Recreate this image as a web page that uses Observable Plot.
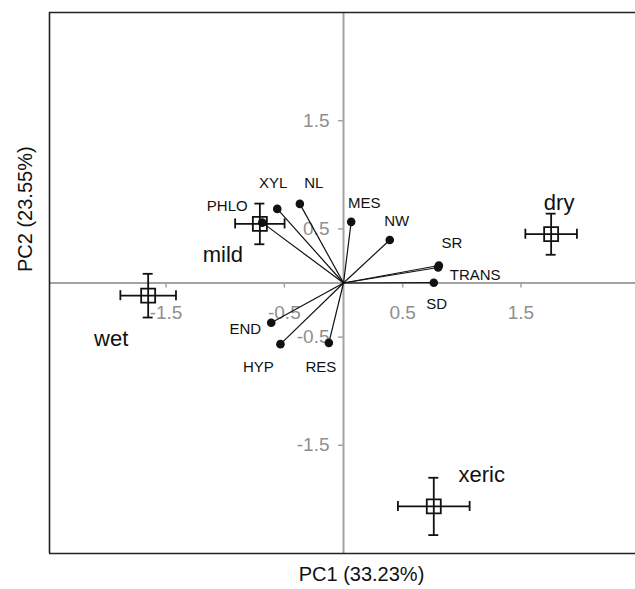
<!DOCTYPE html>
<html>
<head>
<meta charset="utf-8">
<script src="https://cdn.jsdelivr.net/npm/d3@7"></script>
<script src="https://cdn.jsdelivr.net/npm/@observablehq/plot@0.6"></script>
<style>
  html, body { margin: 0; padding: 0; background: #fff; }
  #chart svg { display: block; }
</style>
</head>
<body>
<div id="chart"></div>
<script>
// ---- data ----
const tickValues = [-1.5, -0.5, 0.5, 1.5];
const tickLabels = ["-1.5", "-0.5", "0.5", "1.5"];

const variables = ["PHLO", "XYL", "NL", "MES", "NW", "SR", "TRANS", "SD", "END", "HYP", "RES"];
const loadPC1 = [-0.687, -0.56, -0.369, 0.065, 0.391, 0.806, 0.80, 0.763, -0.611, -0.533, -0.124];
const loadPC2 = [0.558, 0.685, 0.731, 0.565, 0.398, 0.162, 0.143, 0.003, -0.367, -0.565, -0.553];

const groups = ["wet", "mild", "dry", "xeric"];
const scorePC1 = [-1.651, -0.707, 1.755, 0.763];
const scorePC2 = [-0.117, 0.546, 0.451, -2.065];
const errPC1 = [0.235, 0.209, 0.218, 0.303];
const errPC2 = [0.202, 0.188, 0.19, 0.265];

const xLabel = "PC1 (33.23%)";
const yLabel = "PC2 (23.55%)";

// ---- layout (label offsets in pixels) ----
const varLabelOffset = {
  PHLO: [-35, -16], XYL: [-4, -26], NL: [14, -21], MES: [13, -19], NW: [7, -19],
  SR: [13, -22], TRANS: [37, 8], SD: [3, 22], END: [-26, 6], HYP: [-22, 23], RES: [-8, 24]
};
const groupLabelOffset = { wet: [-37, 43], mild: [-37, 31], dry: [8, -31], xeric: [48, -31] };

const xDomain = [-2.485, 2.468];
const yDomain = [-2.5, 2.5];

const loads = variables.map((v, i) => ({name: v, x: loadPC1[i], y: loadPC2[i]}));
const scores = groups.map((g, i) => ({name: g, x: scorePC1[i], y: scorePC2[i], ex: errPC1[i], ey: errPC2[i]}));
const ticks = tickValues.map((v, i) => ({v, label: tickLabels[i]}));

const gray = "#a3a3a3";
const font = "'Liberation Sans', Arial, Helvetica, sans-serif";

const textByOffset = (data, offsets, opts) =>
  data.map(d => Plot.text([d], {x: "x", y: "y", text: "name", dx: offsets[d.name][0], dy: offsets[d.name][1], ...opts}));

const chart = Plot.plot({
  width: 635,
  height: 589,
  marginLeft: 49,
  marginRight: 0,
  marginTop: 12,
  marginBottom: 36,
  x: {domain: xDomain, axis: null},
  y: {domain: yDomain, axis: null},
  style: {fontFamily: font, background: "#fff", overflow: "visible"},
  marks: [
    // cross axes
    Plot.ruleX([0], {stroke: gray, strokeWidth: 2}),
    Plot.ruleY([0], {stroke: gray, strokeWidth: 2}),
    // tick marks
    Plot.ruleX(ticks, {x: "v", y1: 0, y2: 0, insetBottom: -5, stroke: gray, strokeWidth: 1.5}),
    Plot.ruleY(ticks, {y: "v", x1: 0, x2: 0, insetLeft: -5, stroke: gray, strokeWidth: 1.5}),
    // tick labels
    Plot.text(ticks, {x: "v", y: 0, text: "label", dy: 30, fill: "#8f8f8f", fontSize: 19}),
    Plot.text(ticks, {x: 0, y: "v", text: "label", dx: -14, textAnchor: "end", fill: "#8f8f8f", fontSize: 19}),
    // frame (top, bottom, left)
    Plot.ruleY(yDomain, {stroke: "#222", strokeWidth: 1.6}),
    Plot.ruleX([xDomain[0]], {stroke: "#222", strokeWidth: 1.6}),
    // loading vectors
    Plot.link(loads, {x1: 0, y1: 0, x2: "x", y2: "y", stroke: "#111", strokeWidth: 1.2}),
    Plot.dot(loads, {x: "x", y: "y", r: 4.3, fill: "#111"}),
    // score error bars
    Plot.link(scores, {x1: d => d.x - d.ex, x2: d => d.x + d.ex, y1: "y", y2: "y", stroke: "#111", strokeWidth: 1.8}),
    Plot.link(scores, {x1: "x", x2: "x", y1: d => d.y - d.ey, y2: d => d.y + d.ey, stroke: "#111", strokeWidth: 1.8}),
    Plot.ruleX(scores, {x: d => d.x - d.ex, y1: "y", y2: "y", insetTop: -5, insetBottom: -5, stroke: "#111", strokeWidth: 1.8}),
    Plot.ruleX(scores, {x: d => d.x + d.ex, y1: "y", y2: "y", insetTop: -5, insetBottom: -5, stroke: "#111", strokeWidth: 1.8}),
    Plot.ruleY(scores, {y: d => d.y - d.ey, x1: "x", x2: "x", insetLeft: -5, insetRight: -5, stroke: "#111", strokeWidth: 1.8}),
    Plot.ruleY(scores, {y: d => d.y + d.ey, x1: "x", x2: "x", insetLeft: -5, insetRight: -5, stroke: "#111", strokeWidth: 1.8}),
    Plot.dot(scores, {x: "x", y: "y", symbol: "square", r: 7.9, fill: "none", stroke: "#111", strokeWidth: 1.8}),
    // labels
    ...textByOffset(loads, varLabelOffset, {fontSize: 15, fill: "#111"}),
    ...textByOffset(scores, groupLabelOffset, {fontSize: 22, fill: "#111"}),
    // axis titles
    Plot.text([xLabel], {frameAnchor: "bottom", text: d => d, dx: 19, dy: 27, fontSize: 20, fill: "#111"}),
    Plot.text([yLabel], {frameAnchor: "left", text: d => d, rotate: -90, dx: -24, dy: -11, fontSize: 20, fill: "#111"})
  ]
});
document.getElementById("chart").appendChild(chart);
</script>
</body>
</html>
